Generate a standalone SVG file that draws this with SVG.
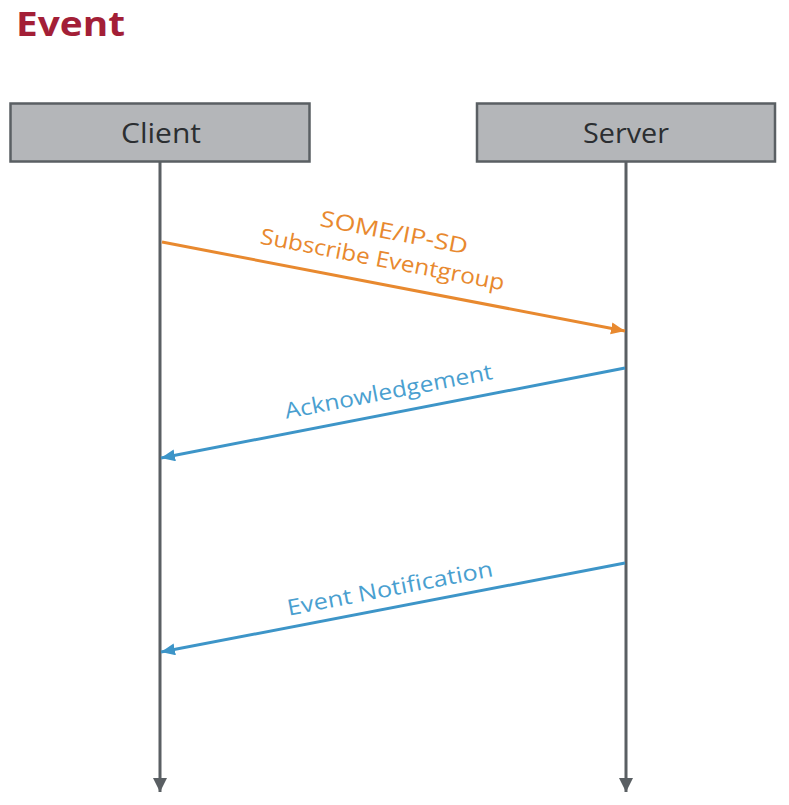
<svg xmlns="http://www.w3.org/2000/svg" width="789" height="805" viewBox="0 0 789 805">
<style>
.box{fill:#b4b6b9;stroke:#5a5f63;stroke-width:2.5}
.lbl{font-family:"Open Sans","Liberation Sans",sans-serif;font-size:27px;fill:#2b2e31;text-anchor:middle}
.life{stroke:#5a5f63;stroke-width:3;fill:none}
.msg{font-family:"Open Sans","Liberation Sans",sans-serif;font-size:22px;text-anchor:middle}
.or{stroke:#e8892f;stroke-width:3;fill:none}
.bl{stroke:#3d95c8;stroke-width:3;fill:none}
</style>
<defs>
<marker id="ag" markerUnits="userSpaceOnUse" markerWidth="16" markerHeight="16" refX="14" refY="7" orient="auto"><path d="M0,0 L14,7 L0,14 Z" fill="#5a5f63"/></marker>
<marker id="ao" markerUnits="userSpaceOnUse" markerWidth="16" markerHeight="16" refX="14" refY="6" orient="auto"><path d="M0,0 L14,6 L0,12 Z" fill="#e8892f"/></marker>
<marker id="ab" markerUnits="userSpaceOnUse" markerWidth="16" markerHeight="16" refX="14" refY="6" orient="auto"><path d="M0,0 L14,6 L0,12 Z" fill="#3d95c8"/></marker>
</defs>
<rect width="789" height="805" fill="#ffffff"/>
<text x="16" y="36" font-family="'Open Sans','Liberation Sans',sans-serif" font-size="34" font-weight="bold" fill="#a31f37" textLength="109" lengthAdjust="spacingAndGlyphs">Event</text>
<g id="client">
<rect class="box" x="10.5" y="103.5" width="299" height="58"/>
<text class="lbl" x="161" y="143" textLength="80" lengthAdjust="spacingAndGlyphs">Client</text>
</g>
<g id="server">
<rect class="box" x="477" y="103.5" width="298" height="58"/>
<text class="lbl" x="626" y="143" textLength="86" lengthAdjust="spacingAndGlyphs">Server</text>
</g>
<g id="connectors">
<line class="life" x1="160" y1="162" x2="160" y2="792" marker-end="url(#ag)"/>
<line class="life" x1="626" y1="162" x2="626" y2="792" marker-end="url(#ag)"/>
<line class="or" x1="162" y1="242" x2="625" y2="331" marker-end="url(#ao)"/>
<line class="bl" x1="625" y1="368" x2="161" y2="458" marker-end="url(#ab)"/>
<line class="bl" x1="625" y1="563" x2="161" y2="652" marker-end="url(#ab)"/>
</g>
<g id="labels">
<g transform="translate(394,233) rotate(10.9)"><text class="msg" x="0" y="7" fill="#e8892f" textLength="150" lengthAdjust="spacingAndGlyphs">SOME/IP-SD</text></g>
<g transform="translate(382,262) rotate(10.9)"><text class="msg" x="0" y="5" fill="#e8892f" textLength="248" lengthAdjust="spacingAndGlyphs">Subscribe Eventgroup</text></g>
<g transform="translate(389,394) rotate(-10.9)"><text class="msg" x="0" y="5" fill="#4a9fd0" textLength="211" lengthAdjust="spacingAndGlyphs">Acknowledgement</text></g>
<g transform="translate(390,589) rotate(-10.9)"><text class="msg" x="0" y="7" fill="#4a9fd0" textLength="209" lengthAdjust="spacingAndGlyphs">Event Notification</text></g>
</g>
</svg>
